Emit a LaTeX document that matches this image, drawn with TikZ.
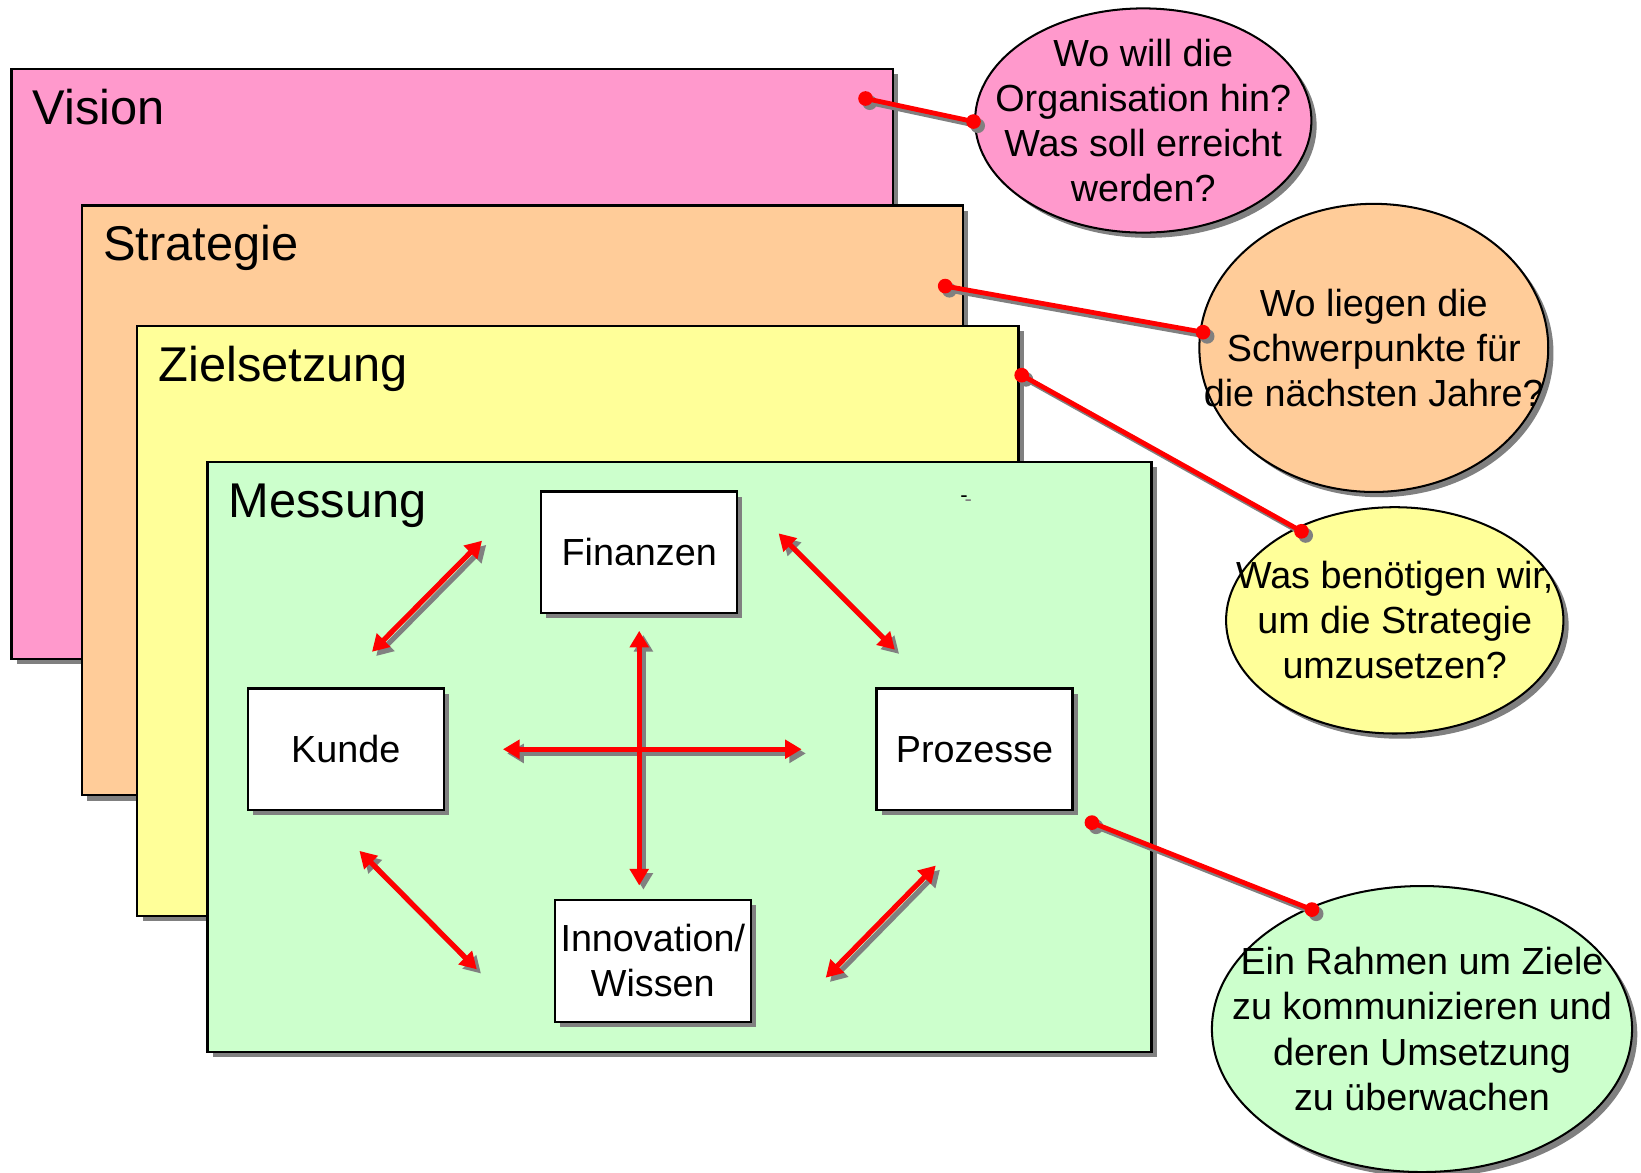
\documentclass[tikz,border=0pt]{standalone}
\usepackage{fontspec}
\setmainfont{Liberation Sans}
\usetikzlibrary{shapes.geometric,arrows.meta,shadows}
\definecolor{vispink}{HTML}{FF99CC}
\definecolor{strorange}{HTML}{FFCC99}
\definecolor{zielyellow}{HTML}{FFFF99}
\definecolor{messgreen}{HTML}{CCFFCC}
\definecolor{shadowgray}{HTML}{808080}
\begin{document}
\begin{tikzpicture}[x=0.02cm,y=-0.02cm,
  shad/.style={drop shadow={shadow xshift=0.1cm,shadow yshift=-0.1cm,fill=shadowgray,opacity=1}},
  layer/.style={draw=black,line width=1.2pt,anchor=north west,inner sep=0pt,minimum width=16.82cm,minimum height=11.26cm,shad},
  layerlabel/.style={anchor=base west,inner sep=0pt,font=\fontsize{26.5}{30}\selectfont},
  areabox/.style={draw=black,fill=white,line width=1.2pt,minimum width=3.74cm,minimum height=2.32cm,inner sep=0pt,align=center,font=\fontsize{20.5}{24.5}\selectfont,shad},
  bubble/.style={ellipse,draw=black,line width=1.1pt,inner sep=0pt,shad},
  bubbletext/.style={inner sep=0pt,align=center,font=\fontsize{20.5}{24.5}\selectfont},
  dblarrow/.style={draw=red,line width=2.8pt,{Triangle[length=9pt,width=10pt]}-{Triangle[length=9pt,width=10pt]}},
  dblarrowsh/.style={draw=shadowgray,line width=2.8pt,{Triangle[length=9pt,width=10pt]}-{Triangle[length=9pt,width=10pt]}},
  callout/.style={draw=red,line width=2.6pt},
  calloutsh/.style={draw=shadowgray,line width=2.6pt},
  dot/.style={circle,fill=red,inner sep=0pt,minimum size=0.28cm},
  dotsh/.style={circle,fill=shadowgray,inner sep=0pt,minimum size=0.28cm}
]
\useasboundingbox (0,0) rectangle (1566,1119);

% layers
\node[layer,fill=vispink] (vision) at (10,65) {};
\node[layerlabel] (visionlbl) at (31,119) {Vision};
\node[layer,fill=strorange] (strategie) at (77,195) {};
\node[layerlabel] (strategielbl) at (98,249) {Strategie};
\node[layer,fill=zielyellow] (ziel) at (130,310) {};
\node[layerlabel] (ziellbl) at (151,364) {Zielsetzung};
\node[layer,fill=messgreen,minimum width=18.02cm] (messung) at (197,440) {};
\node[layerlabel] (messunglbl) at (218,494) {Messung};

% small dash
\node[inner sep=0pt,font=\fontsize{12}{12}\selectfont,text=shadowgray] (dashsh) at (924,480) {-};
\node[inner sep=0pt,font=\fontsize{12}{12}\selectfont] (dash) at (920,476) {-};

% inner boxes
\node[areabox] (fin) at (610,527) {Finanzen};
\node[areabox] (kunde) at (330,715) {Kunde};
\node[areabox] (proz) at (930,715) {Prozesse};
\node[areabox] (innov) at (623,917) {Innovation/\\Wissen};

% arrow end points
\coordinate (kf1) at (355,622); \coordinate (kf2) at (460,516);
\coordinate (fp1) at (743,509); \coordinate (fp2) at (854,620);
\coordinate (vt1) at (610,602); \coordinate (vt2) at (610,845);
\coordinate (hz1) at (480,715); \coordinate (hz2) at (765,715);
\coordinate (ki1) at (343,812); \coordinate (ki2) at (455,925);
\coordinate (ip1) at (788,933); \coordinate (ip2) at (893,826);

\foreach \a/\b in {kf1/kf2,fp1/fp2,vt1/vt2,hz1/hz2,ki1/ki2,ip1/ip2}{
  \draw[dblarrowsh] ([shift={(4,4)}]\a) -- ([shift={(4,4)}]\b);
}
\foreach \a/\b in {kf1/kf2,fp1/fp2,vt1/vt2,hz1/hz2,ki1/ki2,ip1/ip2}{
  \draw[dblarrow] (\a) -- (\b);
}

% bubbles
\node[bubble,fill=vispink,minimum width=6.42cm,minimum height=4.28cm] (q1) at (1091,115) {};
\node[bubbletext] (q1t) at (q1.center) {Wo will die\\Organisation hin?\\Was soll erreicht\\werden?};
\node[bubble,fill=strorange,minimum width=6.66cm,minimum height=5.5cm] (q2) at (1311,332) {};
\node[bubbletext] (q2t) at (q2.center) {Wo liegen die\\Schwerpunkte für\\die nächsten Jahre?};
\node[bubble,fill=zielyellow,minimum width=6.44cm,minimum height=4.32cm] (q3) at (1331,592) {};
\node[bubbletext] (q3t) at (q3.center) {Was benötigen wir,\\um die Strategie\\umzusetzen?};
\node[bubble,fill=messgreen,minimum width=8.02cm,minimum height=5.46cm] (q4) at (1357,982) {};
\node[bubbletext] (q4t) at (q4.center) {Ein Rahmen um Ziele\\zu kommunizieren und\\deren Umsetzung\\zu überwachen};

% callout end points
\coordinate (c1a) at (826,94);  \coordinate (c1b) at (929,116);
\coordinate (c2a) at (902,273); \coordinate (c2b) at (1148,317);
\coordinate (c3a) at (975,358); \coordinate (c3b) at (1242,507);
\coordinate (c4a) at (1042,785); \coordinate (c4b) at (1252,868);

\foreach \a/\b in {c1a/c1b,c2a/c2b,c3a/c3b,c4a/c4b}{
  \draw[calloutsh] ([shift={(4,4)}]\a) -- ([shift={(4,4)}]\b);
  \node[dotsh] at ([shift={(4,4)}]\a) {};
  \node[dotsh] at ([shift={(4,4)}]\b) {};
  \draw[callout] (\a) -- (\b);
  \node[dot] at (\a) {};
  \node[dot] at (\b) {};
}
\end{tikzpicture}
\end{document}
